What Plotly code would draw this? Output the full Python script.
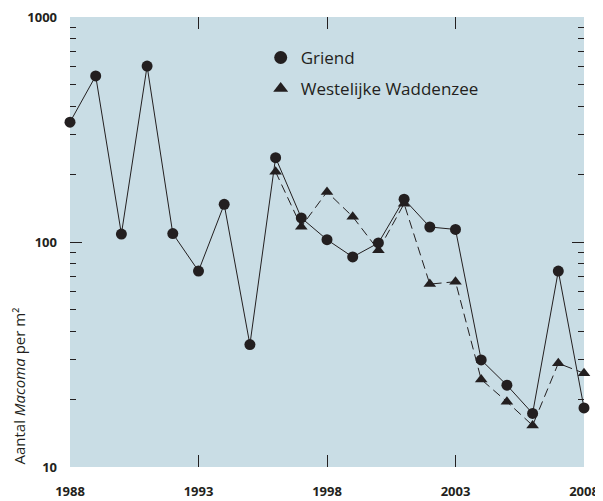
import plotly.graph_objects as go

years_griend = list(range(1988, 2009))
griend = [341, 547, 108.5, 605, 109, 74.3, 147, 35, 237, 128, 102.4, 85.8, 99, 155,
          116.6, 113.7, 29.9, 23.1, 17.3, 74.3, 18.3]
years_ww = list(range(1996, 2009))
westelijke = [205, 117, 167, 129.6, 92, 148, 65, 66.6, 24.5, 19.5, 15.3, 28.9, 26.1]

x_ticks = [1988, 1993, 1998, 2003, 2008]
y_ticks = [10, 100, 1000]
y_minor = [v * m for v in (10, 100) for m in range(2, 10)]

ink = "#231f20"
bg = "#c9dde5"
font = "Open Sans"

fig = go.Figure()
fig.add_trace(go.Scatter(x=years_ww, y=westelijke, mode="lines+markers",
                         line=dict(color=ink, width=1, dash="9px,5px"),
                         marker=dict(symbol="triangle-up", size=11, color=ink),
                         showlegend=False, cliponaxis=False))
fig.add_trace(go.Scatter(x=years_griend, y=griend, mode="lines+markers",
                         line=dict(color=ink, width=1),
                         marker=dict(symbol="circle", size=11, color=ink),
                         showlegend=False, cliponaxis=False))
# legend entries (marker only)
fig.add_trace(go.Scatter(x=[None], y=[None], mode="markers", name="Griend",
                         marker=dict(symbol="circle", size=13, color=ink),
                         legendgroup="a"))
fig.add_trace(go.Scatter(x=[None], y=[None], mode="markers", name="Westelijke Waddenzee",
                         marker=dict(symbol="triangle-up", size=13, color=ink),
                         legendgroup="b"))

# page body has an 8px default margin, so the figure is sized/offset to compensate
fig.update_layout(
    width=595, height=493,
    margin=dict(l=62, r=19, t=9, b=34),
    paper_bgcolor="white", plot_bgcolor=bg,
    font=dict(family=font, color=ink),
    legend=dict(x=0.371, y=0.949, xanchor="left", yanchor="top",
                bgcolor="rgba(0,0,0,0)", font=dict(size=17, color=ink),
                tracegroupgap=6, traceorder="grouped"),
    xaxis=dict(range=[1988, 2008], tickvals=x_ticks, ticks="inside", ticklen=12,
               tickcolor=ink, tickwidth=1, mirror="ticks", showline=False,
               showgrid=False, zeroline=False, automargin=False,
               ticklabeloverflow="allow",
               tickfont=dict(size=13, family=font, weight="bold", color=ink),
               ticklabelstandoff=15),
    yaxis=dict(type="log", range=[1, 3], tickvals=y_ticks, ticktext=[str(v) for v in y_ticks],
               ticks="inside", ticklen=12, tickcolor=ink, tickwidth=1,
               mirror="ticks", showline=False, showgrid=False, zeroline=False,
               automargin=False, ticklabeloverflow="allow",
               tickfont=dict(size=13, family=font, weight="bold", color=ink),
               ticklabelstandoff=12,
               minor=dict(tickvals=y_minor, ticks="inside", ticklen=6,
                          tickcolor=ink, tickwidth=1, showgrid=False)),
)

fig.add_annotation(text="Aantal <i>Macoma</i> per m²", textangle=-90,
                   xref="paper", yref="paper", x=0, y=0, xanchor="center", yanchor="bottom",
                   xshift=-52, showarrow=False,
                   font=dict(size=15, family=font, color=ink))

fig.write_html("out.html")
